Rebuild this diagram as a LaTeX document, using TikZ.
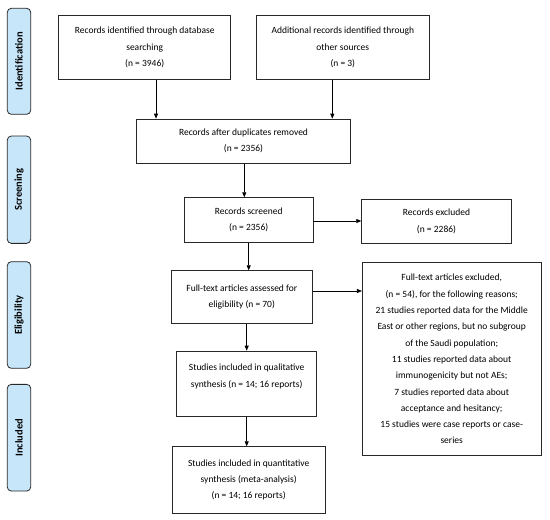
\documentclass[tikz,border=0pt]{standalone}
\usepackage{fontspec}
\setmainfont{Carlito}
\usetikzlibrary{arrows.meta}
\definecolor{phase}{RGB}{200,230,250}
\definecolor{edge}{RGB}{40,40,40}
\tikzset{
  box/.style={draw=edge, line width=0.8pt, fill=white, align=center, inner sep=0pt,
    font=\fontsize{9.5}{16.3}\selectfont},
  phasebox/.style={draw=edge, line width=0.8pt, fill=phase, rounded corners=4pt,
    inner sep=0pt},
  phasetext/.style={rotate=90, font=\fontsize{10.5}{12}\selectfont\bfseries},
  arr/.style={draw=black, line width=0.7pt, -{Triangle[length=5pt,width=4pt]}}
}
\begin{document}
\begin{tikzpicture}[x=1pt,y=-1pt]
\useasboundingbox[fill=white] (0,0) rectangle (550,520);
% phase labels
\node[phasebox, minimum width=23.4pt, minimum height=106pt] (p1) at (19,61.3) {};
\node[phasetext] (t1) at (p1.center) {Identification};
\node[phasebox, minimum width=23.4pt, minimum height=107.3pt] (p2) at (19,189.7) {};
\node[phasetext] (t2) at (p2.center) {Screening};
\node[phasebox, minimum width=23.4pt, minimum height=106.6pt] (p3) at (19,315) {};
\node[phasetext] (t3) at (p3.center) {Eligibility};
\node[phasebox, minimum width=23.4pt, minimum height=106.7pt] (p4) at (19,437.7) {};
\node[phasetext] (t4) at (p4.center) {Included};
% boxes
\node[box, minimum width=172pt, minimum height=63.6pt] (b1) at (144.7,47.5)
  {Records identified through database\\ searching\\ (n = 3946)};
\node[box, minimum width=172.3pt, minimum height=63.6pt] (b2) at (342.8,47.5)
  {Additional records identified through\\ other sources\\ (n = 3)};
\node[box, minimum width=213.6pt, minimum height=44.3pt] (b3) at (243.5,141.2)
  {Records after duplicates removed\\ (n = 2356)};
\node[box, minimum width=128.7pt, minimum height=44.6pt] (b4) at (248.7,220)
  {Records screened\\ (n = 2356)};
\node[box, minimum width=149.6pt, minimum height=44.4pt] (b5) at (436.5,221.5)
  {Records excluded\\ (n = 2286)};
\node[box, minimum width=141.7pt, minimum height=52.6pt] (b6) at (241.8,297)
  {Full-text articles assessed for\\ eligibility (n = 70)};
\node[box, minimum width=178.7pt, minimum height=193pt] (b7) at (451.7,359.2)
  {Full-text articles excluded,\\ (n = 54), for the following reasons;\\
   21 studies reported data for the Middle\\ East or other regions, but no subgroup\\
   of the Saudi population;\\ 11 studies reported data about\\
   immunogenicity but not AEs;\\ 7 studies reported data about\\
   acceptance and hesitancy;\\ 15 studies were case reports or case-\\ series};
\node[box, minimum width=140pt, minimum height=65.7pt] (b8) at (246.7,383.9)
  {Studies included in qualitative\\ synthesis (n = 14; 16 reports)\\ \mbox{}};
\node[box, minimum width=152.7pt, minimum height=66.6pt] (b9) at (248.7,480)
  {Studies included in quantitative\\ synthesis (meta-analysis)\\ (n = 14; 16 reports)};
% connectors
\coordinate (c1) at (156,0);
\coordinate (c2) at (332.3,0);
\draw[arr] (c1 |- b1.south) -- (c1 |- b3.north);
\draw[arr] (c2 |- b2.south) -- (c2 |- b3.north);
\draw[arr] (b3.south -| 244.3,0) -- (b4.north -| 244.3,0);
\coordinate (c4) at ([yshift=-1pt]b4.east);
\draw[arr] (c4) -- (c4 -| b5.west);
\draw[arr] (b4.south) -- (b4.south |- b6.north);
\coordinate (c6) at ([yshift=6pt]b6.east);
\draw[arr] (c6) -- (c6 -| b7.west);
\draw[arr] (b8.north |- b6.south) -- (b8.north);
\draw[arr] (b8.south) -- (b8.south |- b9.north);
\end{tikzpicture}
\end{document}
